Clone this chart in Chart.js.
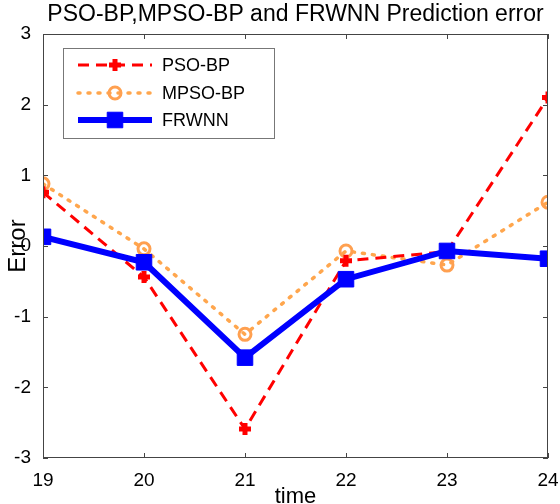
<!DOCTYPE html>
<html>
<head>
<meta charset="utf-8">
<script src="https://cdn.jsdelivr.net/npm/chart.js@4.4.1/dist/chart.umd.min.js"></script>
<style>
  body { margin: 0; background: #fff; }
  #wrap { width: 560px; height: 504px; }
</style>
</head>
<body>
<div id="wrap"><canvas id="errChart"></canvas></div>
<script>
const timeSteps = [19, 20, 21, 22, 23, 24];
const psoBp = [0.76, -0.44, -2.59, -0.21, -0.08, 2.1];
const mpsoBp = [0.88, -0.04, -1.25, -0.07, -0.27, 0.62];
const frwnn = [0.13, -0.23, -1.58, -0.47, -0.07, -0.18];
const yTicks = [-3, -2, -1, 0, 1, 2, 3];
const seriesNames = ["PSO-BP", "MPSO-BP", "FRWNN"];

const FONT = "'Liberation Sans', Arial, sans-serif";
const AXIS_COLOR = "#444";

function toPoints(vals) {
  return vals.map((v, i) => ({ x: timeSteps[i], y: v }));
}

// box, inner ticks, title, axis titles, legend (MATLAB look)
const matlabFrame = {
  id: "matlabFrame",
  afterDraw(chart) {
    const c = chart.ctx;
    const a = chart.chartArea;
    const xs = chart.scales.x, ys = chart.scales.y;
    c.save();
    c.strokeStyle = AXIS_COLOR;
    c.lineWidth = 1;
    c.strokeRect(a.left + 0.5, a.top + 0.5, a.right - a.left - 1, a.bottom - a.top - 1);
    c.beginPath();
    timeSteps.forEach((t) => {
      const px = Math.round(xs.getPixelForValue(t)) + 0.5;
      c.moveTo(px, a.bottom); c.lineTo(px, a.bottom - 5);
      c.moveTo(px, a.top); c.lineTo(px, a.top + 5);
    });
    yTicks.forEach((t) => {
      const py = Math.round(ys.getPixelForValue(t)) + 0.5;
      c.moveTo(a.left, py); c.lineTo(a.left + 5, py);
      c.moveTo(a.right, py); c.lineTo(a.right - 5, py);
    });
    c.stroke();

    // title
    c.fillStyle = "#000";
    c.font = "23px " + FONT;
    c.textAlign = "center";
    c.textBaseline = "alphabetic";
    c.fillText("PSO-BP,MPSO-BP and FRWNN Prediction error", (a.left + a.right) / 2, 21);

    // x title
    c.font = "22px " + FONT;
    c.fillText("time", (a.left + a.right) / 2, 503);

    // y title
    c.save();
    c.translate(25, 246);
    c.rotate(-Math.PI / 2);
    c.font = "24px " + FONT;
    c.textBaseline = "alphabetic";
    c.fillText("Error", 0, 0);
    c.restore();

    // legend
    const lx = 63, ly = 48, lw = 211, lh = 90;
    c.fillStyle = "#fff";
    c.fillRect(lx, ly, lw, lh);
    c.strokeStyle = "#777";
    c.strokeRect(lx + 0.5, ly + 0.5, lw, lh);
    const rows = [65, 93, 120];
    chart.data.datasets.forEach((ds, i) => {
      const y = rows[i];
      c.save();
      c.strokeStyle = ds.borderColor;
      c.lineWidth = ds.borderWidth;
      c.lineCap = ds.borderCapStyle || "butt";
      c.setLineDash(ds.borderDash || []);
      c.beginPath();
      c.moveTo(78, y); c.lineTo(152, y);
      c.stroke();
      c.restore();
      c.save();
      c.fillStyle = ds.pointBackgroundColor;
      c.strokeStyle = ds.pointBorderColor;
      c.lineWidth = ds.pointBorderWidth;
      Chart.helpers.drawPoint(c, {
        pointStyle: ds.pointStyle,
        radius: ds.pointRadius,
        borderWidth: ds.pointBorderWidth,
        rotation: 0
      }, 115, y);
      c.restore();
      c.fillStyle = "#000";
      c.font = "18px " + FONT;
      c.textAlign = "left";
      c.textBaseline = "middle";
      c.fillText(ds.label, 162, y + 1);
    });
    c.restore();
  }
};

new Chart(document.getElementById("errChart"), {
  type: "line",
  data: {
    datasets: [
      {
        label: seriesNames[0],
        data: toPoints(psoBp),
        borderColor: "#ff0000",
        borderWidth: 3,
        borderDash: [11, 7],
        pointStyle: "cross",
        pointRadius: 6,
        pointBorderWidth: 5,
        pointBorderColor: "#ff0000",
        pointBackgroundColor: "#ff0000",
        tension: 0,
        order: 1
      },
      {
        label: seriesNames[1],
        data: toPoints(mpsoBp),
        borderColor: "#ffa64d",
        borderWidth: 3.5,
        borderDash: [2, 8],
        borderCapStyle: "round",
        pointStyle: "circle",
        pointRadius: 6,
        pointBorderWidth: 3,
        pointBorderColor: "#ffa050",
        pointBackgroundColor: "rgba(0,0,0,0)",
        tension: 0,
        order: 2
      },
      {
        label: seriesNames[2],
        data: toPoints(frwnn),
        borderColor: "#0000ff",
        borderWidth: 6,
        pointStyle: "rect",
        pointRadius: 11,
        pointBorderWidth: 1,
        pointBorderColor: "#0000ff",
        pointBackgroundColor: "#0000ff",
        tension: 0,
        order: 0
      }
    ]
  },
  options: {
    responsive: true,
    maintainAspectRatio: false,
    animation: false,
    layout: { padding: { top: 34, right: 8, left: 0, bottom: 0 } },
    plugins: {
      legend: { display: false },
      title: { display: false },
      tooltip: { enabled: false }
    },
    scales: {
      x: {
        type: "linear",
        min: 19,
        max: 24,
        grid: { display: false },
        border: { display: false },
        ticks: {
          stepSize: 1,
          color: "#000",
          padding: 3,
          font: { family: FONT, size: 19 }
        },
        afterFit(s) { s.height = 46; s.paddingLeft = 0; s.paddingRight = 0; }
      },
      y: {
        min: -3,
        max: 3,
        grid: { display: false },
        border: { display: false },
        ticks: {
          stepSize: 1,
          color: "#000",
          padding: 4,
          font: { family: FONT, size: 19 }
        },
        afterFit(s) { s.width = 43; s.paddingTop = 0; s.paddingBottom = 0; }
      }
    }
  },
  plugins: [matlabFrame]
});
</script>
</body>
</html>
